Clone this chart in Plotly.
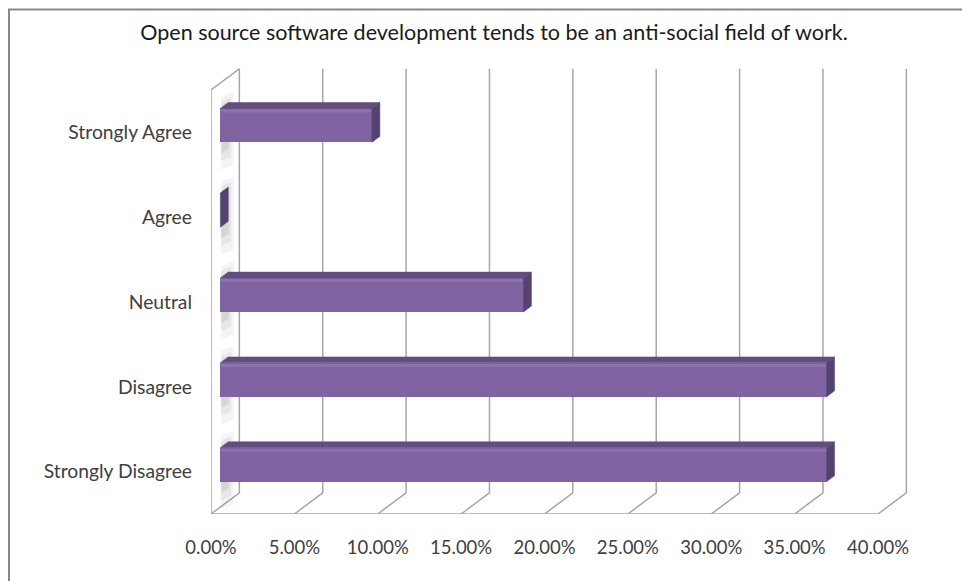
import plotly.graph_objects as go

# ---- data ----
categories = ["Strongly Disagree", "Disagree", "Neutral", "Agree", "Strongly Agree"]
values = [36.36, 36.36, 18.18, 0.0, 9.09]          # percent
x_ticks = [0, 5, 10, 15, 20, 25, 30, 35, 40]
x_tick_labels = ["0.00%", "5.00%", "10.00%", "15.00%", "20.00%", "25.00%", "30.00%", "35.00%", "40.00%"]
title_text = "Open source software development tends to be an anti-social field of work."

# ---- 3D oblique projection parameters (in data units) ----
DX = 1.70     # depth shift along x (percent units)
DY = 0.25     # depth shift along y (category units)
F0 = 0.33     # depth fraction of bar front face
BD = 0.28     # bar depth fraction
BW = 0.40     # bar thickness (category units)
NCAT = len(categories)
XMAX = x_ticks[-1]

GRID = "#A6A6A6"
TXT = "#404040"
FRONT = "#8064A2"
TOP = "#634D80"
SIDE = "#554270"

fig = go.Figure()

def line_trace(xs, ys, color=GRID, width=1.5, axes=("x", "y")):
    return go.Scatter(x=xs, y=ys, mode="lines", line=dict(color=color, width=width),
                      hoverinfo="skip", showlegend=False, cliponaxis=False,
                      xaxis=axes[0], yaxis=axes[1])

# back wall gridlines, floor diagonals, floor front line, tick marks
gx, gy = [], []
for t in x_ticks:
    gx += [t, t + DX, t + DX, None]
    gy += [0, DY, NCAT + DY, None]
    gx += [t, t, None]
    gy += [0, -0.07, None]
fig.add_trace(line_trace(gx, gy))
fig.add_trace(line_trace([0, XMAX], [0, 0]))
# left axis + top diagonal + category ticks
lx, ly = [0, 0, DX, None], [0, NCAT, NCAT + DY, None]
for i in range(NCAT + 1):
    lx += [0, -0.33, None]
    ly += [i, i, None]
fig.add_trace(line_trace(lx, ly))

# soft shadows on the left wall (stacked translucent strips)
base = F0 * DX
centers = [i + 0.5 + F0 * DY for i in range(NCAT)]
for k, (w, ext, a) in enumerate([(0.75, 0.32, 0.08), (0.6, 0.22, 0.11), (0.45, 0.13, 0.15)]):
    sx, sy = [], []
    for i, v in enumerate(values):
        c = centers[i]
        x0 = base + 0.05
        sx += [x0, x0 + w, x0 + w, x0, x0, None]
        sy += [c - BW / 2 - ext, c - BW / 2 - ext + 0.05, c + BW / 2 + ext * 0.6, c + BW / 2 + ext * 0.6 - 0.05,
               c - BW / 2 - ext, None]
    fig.add_trace(go.Scatter(x=sx, y=sy, mode="lines", fill="toself", fillcolor=f"rgba(120,120,120,{a})",
                             line=dict(width=0), hoverinfo="skip", showlegend=False))

# bar front faces (overlay axes so they sit above the gridlines)
fig.add_trace(go.Bar(orientation="h", y=centers, x=values, base=[base] * NCAT, width=BW,
                     marker=dict(color=FRONT, line=dict(width=0)), showlegend=False,
                     hovertext=categories, hoverinfo="text+x", xaxis="x2", yaxis="y2"))

# top and side faces, highlight
tx, ty, sdx, sdy, hx, hy = [], [], [], [], [], []
for i, v in enumerate(values):
    c = centers[i]
    yt, yb = c + BW / 2, c - BW / 2
    x0, x1 = base, base + v
    ddx, ddy = BD * DX, BD * DY
    tx += [x0, x1, x1 + ddx, x0 + ddx, x0, None]
    ty += [yt, yt, yt + ddy, yt + ddy, yt, None]
    sdx += [x1, x1, x1 + ddx, x1 + ddx, x1, None]
    sdy += [yb, yt, yt + ddy, yb + ddy, yb, None]
    if v > 0:
        hx += [x0, x1, None]
        hy += [yt - 0.03, yt - 0.03, None]
fig.add_trace(go.Scatter(x=hx, y=hy, mode="lines", line=dict(color="#8C71AE", width=3),
                         hoverinfo="skip", showlegend=False, xaxis="x2", yaxis="y2"))
fig.add_trace(go.Scatter(x=tx, y=ty, mode="lines", fill="toself", fillcolor=TOP,
                         line=dict(width=0.5, color=TOP), hoverinfo="skip", showlegend=False,
                         xaxis="x2", yaxis="y2"))
fig.add_trace(go.Scatter(x=sdx, y=sdy, mode="lines", fill="toself", fillcolor=SIDE,
                         line=dict(width=0.5, color=SIDE), hoverinfo="skip", showlegend=False,
                         xaxis="x2", yaxis="y2"))

W, H = 962, 581
L, R, T, B = 211, 51, 60, 67
xrange_ = [0, (W - L - R) / 16.675]
yrange_ = [0, (H - T - B) / 84.8]
fig.update_layout(
    width=W, height=H,
    margin=dict(l=L, r=R, t=T, b=B),
    paper_bgcolor="white", plot_bgcolor="white",
    font=dict(family="Lato, Open Sans, sans-serif", color=TXT, size=18.5),
    title=dict(text=title_text, x=494 / W, xanchor="center", xref="container",
               y=1 - 32 / H, yanchor="middle", font=dict(size=21.5, color="#1a1a1a")),
    xaxis=dict(range=xrange_, tickvals=x_ticks, ticktext=x_tick_labels, tickfont=dict(size=18.5),
               showgrid=False, zeroline=False, showline=False, ticks="", ticklabelstandoff=20),
    yaxis=dict(range=yrange_, tickvals=[i + 0.5 for i in range(NCAT)], ticktext=categories,
               tickfont=dict(size=19.3),
               showgrid=False, zeroline=False, showline=False, ticks="", ticklabelstandoff=18),
    xaxis2=dict(range=xrange_, overlaying="x", visible=False),
    yaxis2=dict(range=yrange_, overlaying="y", visible=False),
    bargap=0,
    shapes=[dict(type="rect", xref="paper", yref="paper",
                 x0=(9 - L) / (W - L - R), x1=(975 - L) / (W - L - R),
                 y0=-(600 - (H - B)) / (H - T - B), y1=((H - B) - 9.5) / (H - T - B),
                 line=dict(color="#888888", width=2), layer="below")],
)

fig.write_html("out.html")
